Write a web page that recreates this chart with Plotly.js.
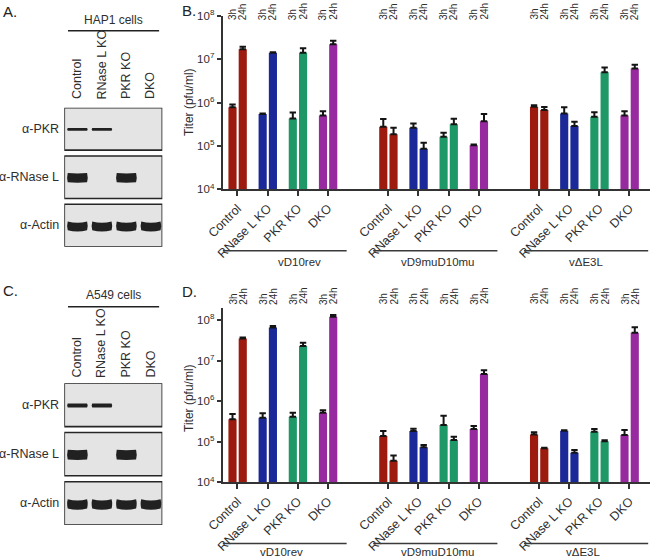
<!DOCTYPE html>
<html><head><meta charset="utf-8">
<script src="https://cdn.plot.ly/plotly-3.0.1.min.js"></script>
<style>html,body{margin:0;padding:0;background:#fff}#chart{width:650px;height:560px}</style>
</head><body><div id="chart"></div>
<script>
// ---------- data ----------
const viruses = ['vD10rev', 'vD9muD10mu', 'vΔE3L'];
const cellLines = ['Control', 'RNase L KO', 'PKR KO', 'DKO'];
const timeLabels = ['3h', '24h'];

// HAP1 cells (panel B), titer pfu/ml, order: virus x cell line
const hap1Titer3h  = [7.8e5, 5.4e5, 4.3e5, 5.0e5,   2.77e5, 2.63e5, 1.63e5, 1.03e5,   8.0e5, 5.6e5, 4.7e5, 5.0e5];
const hap1Err3h    = [1.2e5, 2.0e4, 1.6e5, 1.3e5,   1.4e5, 6.7e4, 3.7e4, 4.0e3,      6.0e4, 2.2e5, 1.3e5, 1.3e5];
const hap1Titer24h = [1.68e7, 1.4e7, 1.4e7, 2.19e7, 1.85e5, 8.6e4, 3.15e5, 3.7e5,    6.7e5, 2.87e5, 4.97e6, 6.1e6];
const hap1Err24h   = [2.5e6, 3.0e5, 3.8e6, 4.6e6,   7.8e4, 3.2e4, 1.05e5, 1.7e5,     1.2e5, 7.3e4, 1.43e6, 1.3e6];

// A549 cells (panel D)
const a549Titer3h  = [3.6e5, 3.9e5, 4.1e5, 5.2e5,   1.38e5, 1.84e5, 2.58e5, 2.06e5,  1.5e5, 1.87e5, 1.76e5, 1.46e5];
const a549Err3h    = [1.2e5, 1.1e5, 1.1e5, 8.0e4,   4.6e4, 2.6e4, 1.8e5, 3.9e4,      2.0e4, 5.0e3, 2.9e4, 4.8e4];
const a549Titer24h = [3.5e7, 6.5e7, 2.28e7, 1.2e8,  3.4e4, 7.3e4, 1.1e5, 4.66e6,     6.9e4, 5.35e4, 1.02e5, 4.85e7];
const a549Err24h   = [2.0e6, 6.0e6, 4.8e6, 1.2e7,   1.2e4, 1.0e4, 2.3e4, 1.09e6,     2.0e3, 8.7e3, 6.0e3, 1.75e7];

// Western blots: band present per lane (Control, RNase L KO, PKR KO, DKO)
const blotRows = ['α-PKR', 'α-RNase L', 'α-Actin'];
const hap1PKR = [1, 1, 0, 0];
const hap1RNaseL = [1, 0, 1, 0];
const hap1Actin = [1, 1, 1, 1];
const a549PKR = [1, 1, 0, 0];
const a549RNaseL = [1, 0, 1, 0];
const a549Actin = [1, 1, 1, 1];

// ---------- style ----------
const FONT = 'Liberation Sans, Arial, Helvetica, sans-serif';
const TXT = '#2e2e2e';
const AX = '#333333';
const cellColors = ['#9c1a0e', '#1b2898', '#1f9868', '#982aa0'];
const W = 650, H = 560;
const px = v => v / W;
const py = v => 1 - v / H;
const OFF3 = -0.30, OFF24 = 0.04, BW = 0.27;

const positions = [], barColors = [], tickText = [];
viruses.forEach((v, g) => cellLines.forEach((c, k) => {
  positions.push(g * 5 + k); barColors.push(cellColors[k]); tickText.push(c);
}));

function barPair(xa, ya, v3, e3, v24, e24) {
  const mk = (vals, errs, off) => ({
    type: 'bar', x: positions, y: vals, xaxis: xa, yaxis: ya,
    offset: off, width: BW,
    marker: {color: barColors, line: {width: 0}},
    error_y: {type: 'data', symmetric: false, array: errs, arrayminus: errs.map(() => 0),
      color: '#141414', thickness: 2, width: 3.2},
    hoverinfo: 'skip', showlegend: false
  });
  return [mk(v3, e3, OFF3), mk(v24, e24, OFF24)];
}

const data = [
  ...barPair('x', 'y', hap1Titer3h, hap1Err3h, hap1Titer24h, hap1Err24h),
  ...barPair('x2', 'y2', a549Titer3h, a549Err3h, a549Titer24h, a549Err24h)
];

const logTicks = [1e4, 1e5, 1e6, 1e7, 1e8];
const logText = ['10<sup>4</sup>', '10<sup>5</sup>', '10<sup>6</sup>', '10<sup>7</sup>', '10<sup>8</sup>'];

function xAx(anchor) {
  return {domain: [px(222.7), 1], anchor: anchor, range: [-0.49, 13.68],
    tickmode: 'array', tickvals: positions, ticktext: tickText, tickangle: -45,
    ticks: 'outside', ticklen: 5, tickwidth: 2, tickcolor: AX,
    showline: true, linewidth: 2, linecolor: AX, showgrid: false, zeroline: false,
    tickfont: {family: FONT, size: 12.5, color: TXT}, fixedrange: true};
}
function yAx(anchor, dom, rng) {
  return {domain: dom, anchor: anchor, type: 'log', range: rng,
    tickmode: 'array', tickvals: logTicks, ticktext: logText,
    ticks: 'outside', ticklen: 4, tickwidth: 2, tickcolor: AX,
    showline: true, linewidth: 2, linecolor: AX, showgrid: false, zeroline: false,
    tickfont: {family: FONT, size: 11.5, color: TXT}, fixedrange: true};
}
function blotX(anchor) {
  return {domain: [px(64.3), px(162.3)], anchor: anchor, range: [0, 4], visible: false, fixedrange: true};
}
function blotY(anchor, top, bottom) {
  return {domain: [py(bottom), py(top)], anchor: anchor, range: [2.88, 0], visible: false, fixedrange: true};
}

const annotations = [];
const shapes = [];

function ann(o) {
  annotations.push(Object.assign({showarrow: false, font: {family: FONT, size: 12, color: TXT}}, o));
}

// panel letters
ann({text: 'A.', xref: 'paper', yref: 'paper', x: px(1), y: py(1), xanchor: 'left', yanchor: 'top', font: {family: FONT, size: 15, color: '#222'}});
ann({text: 'B.', xref: 'paper', yref: 'paper', x: px(180), y: py(0), xanchor: 'left', yanchor: 'top', font: {family: FONT, size: 15, color: '#222'}});
ann({text: 'C.', xref: 'paper', yref: 'paper', x: px(1), y: py(280), xanchor: 'left', yanchor: 'top', font: {family: FONT, size: 15, color: '#222'}});
ann({text: 'D.', xref: 'paper', yref: 'paper', x: px(180), y: py(281), xanchor: 'left', yanchor: 'top', font: {family: FONT, size: 15, color: '#222'}});

// bar chart decorations
function chartDeco(xa, timeBottom, titleY, lineY, labelY, labelShift) {
  positions.forEach(p => {
    [OFF3, OFF24].forEach((off, t) => {
      ann({text: timeLabels[t], xref: xa, yref: 'paper', x: p + off + BW / 2, y: py(timeBottom),
        textangle: -90, xanchor: 'center', yanchor: 'bottom', font: {family: FONT, size: 10, color: TXT}});
    });
  });
  ann({text: 'Titer (pfu/ml)', xref: 'paper', yref: 'paper', x: px(189), y: py(titleY), textangle: -90,
    xanchor: 'center', yanchor: 'middle', font: {family: FONT, size: 12, color: TXT}});
  viruses.forEach((v, g) => {
    shapes.push({type: 'line', xref: xa, yref: 'paper', x0: g * 5 - 0.5, x1: g * 5 + 3.62,
      y0: py(lineY), y1: py(lineY), line: {color: '#3a3a3a', width: 1.5}});
    ann({text: v, xref: xa, yref: 'paper', x: g * 5 + 1.55 + labelShift[g], y: py(labelY),
      xanchor: 'center', yanchor: 'middle', font: {family: FONT, size: 11.5, color: TXT}});
  });
}
chartDeco('x', 22, 102, 250.7, 262, [0.5, 0.1, 0]);
chartDeco('x2', 306.5, 398, 543.5, 551.5, [-0.1, 0.1, -0.1]);

// western blots
function bandPath(x0, x1, yc, h, c) {
  const xm = (x0 + x1) / 2, e = 0.05;
  return `M${x0},${yc - h} Q${xm},${yc - h + c} ${x1},${yc - h} Q${x1 + e},${yc} ${x1},${yc + h} ` +
         `Q${xm},${yc + h + c} ${x0},${yc + h} Q${x0 - e},${yc} ${x0},${yc - h} Z`;
}
function blot(xa, ya, title, titleY, lineY, laneBottom, rowsData, rowHalf, rowCurve) {
  ann({text: title, xref: xa, yref: 'paper', x: 2, y: py(titleY), xanchor: 'center', yanchor: 'middle'});
  shapes.push({type: 'line', xref: xa, yref: 'paper', x0: 0.15, x1: 3.87, y0: py(lineY), y1: py(lineY),
    line: {color: '#222', width: 1.5}});
  cellLines.forEach((c, i) => ann({text: c, xref: xa, yref: 'paper', x: i + 0.5, y: py(laneBottom),
    textangle: -90, xanchor: 'center', yanchor: 'bottom', font: {family: FONT, size: 12.5, color: TXT}}));
  blotRows.forEach((r, j) => {
    shapes.push({type: 'rect', xref: xa, yref: ya, x0: 0, x1: 4, y0: j, y1: j + 0.88,
      fillcolor: '#e4e4e4', line: {color: '#262626', width: 1.6}});
    ann({text: r, xref: 'paper', yref: ya, x: px(61), y: j + 0.44, xanchor: 'right', yanchor: 'middle',
      font: {family: FONT, size: 12.5, color: TXT}});
    rowsData[j].forEach((b, i) => {
      if (!b) return;
      shapes.push({type: 'path', xref: xa, yref: ya,
        path: bandPath(i + 0.14, i + 0.93, j + 0.45, rowHalf[j], rowCurve[j]),
        fillcolor: '#161616', line: {width: 0}, opacity: 0.95});
    });
  });
}
blot('x3', 'y3', 'HAP1 cells', 20, 30.7, 101.5, [hap1PKR, hap1RNaseL, hap1Actin], [0.03, 0.095, 0.09], [0.0, 0.02, 0.05]);
blot('x4', 'y4', 'A549 cells', 295, 306.7, 380, [a549PKR, a549RNaseL, a549Actin], [0.04, 0.1, 0.095], [0.0, 0.02, 0.05]);

const layout = {
  width: W, height: H, margin: {l: 0, r: 0, t: 0, b: 0},
  paper_bgcolor: '#ffffff', plot_bgcolor: 'rgba(0,0,0,0)',
  font: {family: FONT, color: TXT},
  barmode: 'overlay', showlegend: false,
  xaxis: xAx('y'), yaxis: yAx('x', [py(189.3), py(15.7)], [4, 8]),
  xaxis2: xAx('y2'), yaxis2: yAx('x2', [py(482.3), py(308)], [4, 8.295]),
  xaxis3: blotX('y3'), yaxis3: blotY('x3', 107.7, 246.7),
  xaxis4: blotX('y4'), yaxis4: blotY('x4', 383.3, 525),
  annotations: annotations, shapes: shapes
};

Plotly.newPlot('chart', data, layout, {displayModeBar: false, staticPlot: true});
</script>
</body></html>
